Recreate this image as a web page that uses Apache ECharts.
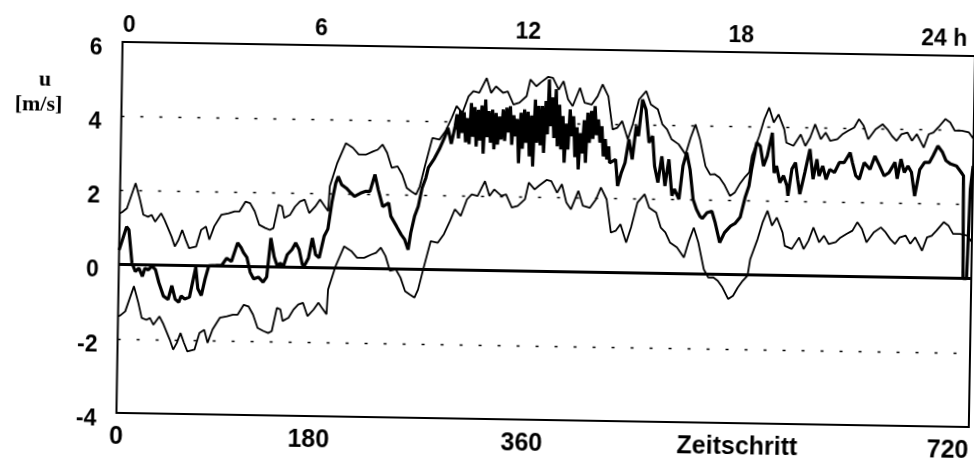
<!DOCTYPE html>
<html><head><meta charset="utf-8">
<script src="https://cdn.jsdelivr.net/npm/echarts@6/dist/echarts.min.js"></script>
<style>
html,body{margin:0;padding:0;background:#fff;overflow:hidden}
#c{width:974px;height:461px;transform:rotate(0.95deg);transform-origin:487px 230.5px}
</style></head><body><div id="c"></div>
<script>
// axis ticks and labels
const stepTicks = [0, 180, 360, 540, 720];
const bottomLabels = ['0', '180', '360', '', '720'];
const topLabels = ['0', '6', '12', '18', '24 h'];
const refLevels = [4, 2, -2];
const zeroLevel = 0;

// thin envelope curves (Zeitschritt, u in m/s)
const envX = [0,2,6,13,17,20,24,27,30,35,
  38,44,47,50,53,56,59,65,69,73,
  76,80,86,92,97,101,106,110,114,118,
  123,127,130,134,137,139,144,148,152,156,
  160,165,169,173,176,177,183,190,196,201,
  207,213,217,221,225,229,234,238,242,246,
  250,253,257,263,269,274,279,283,288,293,
  297,302,308,312,316,322,326,331,336,342,
  345,350,354,360,364,369,373,377,381,387,
  391,397,402,406,411,415,419,423,428,432,
  437,443,447,453,457,461,465,471,477,481,
  485,489,494,498,502,506,510,515,519,523,
  527,531,533,539,543,547,551,555,560,562,
  568,574,578,582,586,591,595,599,605,609,
  614,619,623,627,631,637,643,647,651,655,
  659,664,668,672,678,682,686,690,696,700,
  704,710,716,720];
const upperU = [1.38,1.41,1.52,2.20,1.75,1.35,1.30,1.35,1.17,1.40,
  1.22,0.78,0.51,0.69,0.96,0.70,0.47,0.52,0.97,1.06,
  0.71,1.07,1.39,1.43,1.48,1.48,1.75,1.71,1.49,1.13,
  1.05,1.00,1.05,1.68,1.64,1.33,1.42,1.64,1.78,1.83,
  1.47,1.65,1.84,1.66,1.53,2.20,2.83,3.37,3.25,3.07,
  3.07,3.16,3.21,3.35,3.13,2.73,2.77,2.55,2.19,2.10,
  2.02,2.24,2.78,3.55,3.51,3.74,4.10,4.42,4.24,4.69,
  4.83,4.79,5.19,4.79,4.97,4.80,4.84,4.49,4.54,4.72,
  5.17,4.99,5.10,5.25,5.22,4.91,5.14,4.65,4.47,4.97,
  4.57,4.52,4.75,5.07,4.75,3.86,3.91,4.09,3.60,4.01,
  4.68,4.91,4.55,4.42,4.02,3.89,3.62,3.49,3.22,3.67,
  4.03,3.63,2.91,2.69,2.70,2.61,2.43,2.12,2.21,2.44,
  2.62,2.76,3.20,3.75,4.20,4.52,4.12,4.34,3.94,3.58,
  3.50,3.81,3.50,3.73,4.09,3.69,3.87,3.65,3.70,3.83,
  3.93,4.02,4.25,4.07,3.71,3.98,4.12,3.99,3.81,3.68,
  3.86,3.91,3.69,3.87,3.51,3.87,3.92,4.06,4.29,4.20,
  3.98,3.98,3.94,3.76];
const lowerU = [-1.40,-1.37,-1.26,-0.58,-1.03,-1.43,-1.48,-1.43,-1.61,-1.38,
  -1.56,-2.00,-2.27,-2.09,-1.82,-2.08,-2.31,-2.26,-1.81,-1.72,
  -2.07,-1.71,-1.39,-1.35,-1.30,-1.30,-1.03,-1.07,-1.29,-1.65,
  -1.73,-1.78,-1.73,-1.10,-1.14,-1.45,-1.36,-1.14,-1.00,-0.95,
  -1.31,-1.13,-0.94,-1.12,-1.25,-0.58,0.05,0.59,0.47,0.29,
  0.29,0.38,0.43,0.57,0.35,-0.05,-0.01,-0.23,-0.59,-0.68,
  -0.76,-0.54,0.00,0.77,0.73,0.96,1.32,1.64,1.46,1.91,
  2.05,2.01,2.41,2.01,2.19,2.02,2.06,1.71,1.76,1.94,
  2.39,2.21,2.32,2.47,2.44,2.13,2.36,1.87,1.69,2.19,
  1.79,1.74,1.97,2.29,1.97,1.08,1.13,1.31,0.82,1.23,
  1.90,2.13,1.77,1.64,1.24,1.11,0.84,0.71,0.44,0.89,
  1.25,0.85,0.13,-0.09,-0.08,-0.17,-0.35,-0.66,-0.57,-0.34,
  -0.16,-0.02,0.42,0.97,1.42,1.74,1.34,1.56,1.16,0.80,
  0.72,1.03,0.72,0.95,1.31,0.91,1.09,0.87,0.92,1.05,
  1.15,1.24,1.47,1.29,0.93,1.20,1.34,1.21,1.03,0.90,
  1.08,1.13,0.91,1.09,0.73,1.09,1.14,1.28,1.51,1.42,
  1.20,1.20,1.16,0.98];

// thick measured curve
const thickX = [0,6,8,11,14,17,20,22,25,28,
  31,34,38,42,45,48,51,53,56,60,
  65,67,70,73,76,82,87,91,95,100,
  103,105,108,111,114,118,122,125,128,131,
  134,136,139,142,146,149,152,155,157,160,
  163,166,169,173,176,179,182,184,187,191,
  195,198,203,207,211,215,218,222,227,229,
  234,238,241,244,246,249,252,255,258,260,
  265,269,273,276,279,
  282,283.5,285,286.5,288,289.5,291,292.5,294,295.5,
  297,298.5,300,301.5,303,304.5,306,307.5,309,310.5,
  312,313.5,315,316.5,318,319.5,321,322.5,324,325.5,
  327,328.5,330,331.5,333,334.5,336,337.5,339,340.5,
  342,343.5,345,346.5,348,349.5,351,352.5,354,355.5,
  357,358.5,360,361,362.5,364,365.5,367,368.5,370,
  371.5,373,374.5,376,377.5,379,380.5,382,383.5,385,
  386.5,388,389.5,391,392.5,394,395.5,397,398.5,400,
  401.5,403,404.5,406,407.5,409,410.5,412,413,
  418,420,423,426,429,432,435,
  437,440,443,446,449,451,454,457,460,463,
  466,468,472,475,478,481,484,487,490,492,
  496,500,503,507,511,516,520,524,528,531,
  533,537,540,543,546,550,552,554,557,560,
  563,564,567,570,572,574,578,582,585,588,
  590,593,596,599,603,607,611,616,618,621,
  624,628,633,637,641,645,649,654,656,659,
  662,665,668,671,675,679,683,686,690,694,
  697,701,706,710,712,713,716,718,720];
const thickU = [0.39,1.02,0.94,0.05,-0.18,-0.09,-0.31,-0.09,-0.13,-0.03,
  -0.12,-0.47,-0.83,-0.92,-0.55,-0.91,-0.99,-0.82,-0.90,-0.85,
  -0.04,-0.62,-0.80,-0.35,0.01,0.02,0.03,0.22,0.13,0.64,
  0.51,0.38,0.25,-0.15,-0.33,-0.28,-0.41,-0.27,0.78,0.28,
  0.01,0.11,0.03,0.34,0.48,0.66,0.48,0.07,0.07,0.26,
  0.80,0.35,0.27,0.86,1.05,1.77,2.29,2.47,2.25,2.16,
  2.03,1.94,2.03,2.08,2.08,2.54,2.13,1.68,1.78,1.42,
  1.15,0.93,0.80,0.53,0.98,1.43,1.70,2.20,2.47,2.75,
  3.00,3.25,3.55,3.83,3.40,
  3.87,4.20,3.55,4.30,3.70,4.26,3.45,4.10,3.40,4.51,
  3.60,4.40,3.34,4.33,3.50,4.45,3.15,4.61,3.60,4.30,
  3.45,4.34,3.27,4.25,3.40,4.16,3.54,4.35,3.50,4.40,
  3.73,4.44,3.40,4.20,3.63,4.10,2.91,4.27,3.30,4.36,
  3.46,4.30,3.10,4.20,2.83,4.63,3.47,4.46,3.40,4.46,
  3.20,4.60,3.70,5.18,3.92,4.70,3.60,4.92,3.38,4.50,
  3.30,4.20,2.94,4.00,3.30,4.38,3.66,4.20,3.10,3.90,
  2.77,3.75,3.20,4.10,2.95,4.30,3.49,4.35,3.60,4.48,
  3.70,4.12,3.50,3.94,3.13,3.60,3.05,3.40,2.96,
  3.05,2.34,2.70,2.97,3.60,3.06,3.96,
  3.69,4.68,4.41,3.52,3.70,2.89,2.45,3.16,2.36,3.08,
  2.10,2.28,2.01,2.91,3.27,2.82,2.01,1.74,1.56,1.50,
  1.66,1.70,1.39,0.86,1.13,1.31,1.39,1.55,2.10,2.40,
  2.85,3.57,3.48,2.94,3.21,3.84,2.76,2.95,2.50,2.69,
  2.42,2.15,2.87,3.05,2.60,2.20,2.79,3.42,2.61,3.15,
  2.70,2.97,2.61,2.88,2.80,3.07,3.07,3.34,3.08,2.72,
  2.63,3.08,2.90,3.26,3.00,2.73,2.82,3.10,2.66,3.19,
  2.83,3.01,2.84,2.20,2.92,3.11,3.11,3.29,3.56,3.39,
  3.17,3.08,3.03,2.86,2.77,0.00,0.00,2.42,3.04];

const zip = (xs, ys) => xs.map((x, i) => [x, ys[i]]);
const sans = '"Liberation Sans", Arial, Helvetica, sans-serif';
const serif = '"Liberation Serif", "Times New Roman", serif';

const chart = echarts.init(document.getElementById('c'), null, { renderer: 'canvas' });
chart.setOption({
  animation: false,
  backgroundColor: '#fff',
  grid: { left: 119.5, right: 2, top: 48, bottom: 42, containLabel: false, outerBoundsMode: 'none',
          show: true, borderColor: '#000', borderWidth: 2, backgroundColor: 'transparent' },
  xAxis: [
    { type: 'value', position: 'bottom', min: 0, max: 720, interval: 180,
      axisLine: { show: false }, axisTick: { show: false }, splitLine: { show: false },
      axisLabel: { color: '#000', fontFamily: sans, fontWeight: 'bold', fontSize: 25, margin: 12,
        align: 'right', alignMinLabel: 'center', showMinLabel: true, showMaxLabel: true,
        formatter: v => { const i = stepTicks.indexOf(v); return i < 0 ? '' : bottomLabels[i]; } } },
    { type: 'value', position: 'top', min: 0, max: 720, interval: 180,
      axisLine: { show: false }, axisTick: { show: false }, splitLine: { show: false },
      axisLabel: { color: '#000', fontFamily: sans, fontWeight: 'bold', fontSize: 23, margin: 5,
        align: 'right', alignMinLabel: 'left', padding: [0, 8, 0, 0], showMinLabel: true, showMaxLabel: true,
        formatter: v => { const i = stepTicks.indexOf(v); return i < 0 ? '' : topLabels[i]; } } }
  ],
  yAxis: { type: 'value', min: -4, max: 6, interval: 2,
    axisLine: { show: false }, axisTick: { show: false }, splitLine: { show: false },
    axisLabel: { color: '#000', fontFamily: sans, fontWeight: 'bold', fontSize: 23, margin: 20,
      verticalAlign: 'top', lineHeight: 13 } },
  graphic: [
    { type: 'text', x: 42.5, y: 87, style: { text: 'u', fill: '#000', fontFamily: serif, fontWeight: 'bold', fontSize: 22, align: 'center', verticalAlign: 'middle' } },
    { type: 'text', x: 36.5, y: 112.5, style: { text: '[m/s]', fill: '#000', fontFamily: serif, fontWeight: 'bold', fontSize: 22, align: 'center', verticalAlign: 'middle' } },
    { type: 'text', x: 740.5, y: 443.5, style: { text: 'Zeitschritt', fill: '#000', fontFamily: sans, fontWeight: 'bold', fontSize: 25, align: 'center', verticalAlign: 'middle' } }
  ],
  series: [
    { type: 'line', name: 'obere Grenze', data: zip(envX, upperU), showSymbol: false, symbol: 'none',
      lineStyle: { color: '#000', width: 1.8 }, z: 2,
      markLine: { silent: true, symbol: ['none', 'none'], label: { show: false },
        data: refLevels.map(v => ({ yAxis: v, lineStyle: { color: '#000', width: 1.4, type: [3, 16] } }))
          .concat([{ yAxis: zeroLevel, lineStyle: { color: '#000', width: 3, type: 'solid' } }]) } },
    { type: 'line', name: 'untere Grenze', data: zip(envX, lowerU), showSymbol: false, symbol: 'none',
      lineStyle: { color: '#000', width: 1.8 }, z: 2 },
    { type: 'line', name: 'u', data: zip(thickX, thickU), showSymbol: false, symbol: 'none',
      lineStyle: { color: '#000', width: 3.2 }, z: 3 }
  ]
});
</script></body></html>
